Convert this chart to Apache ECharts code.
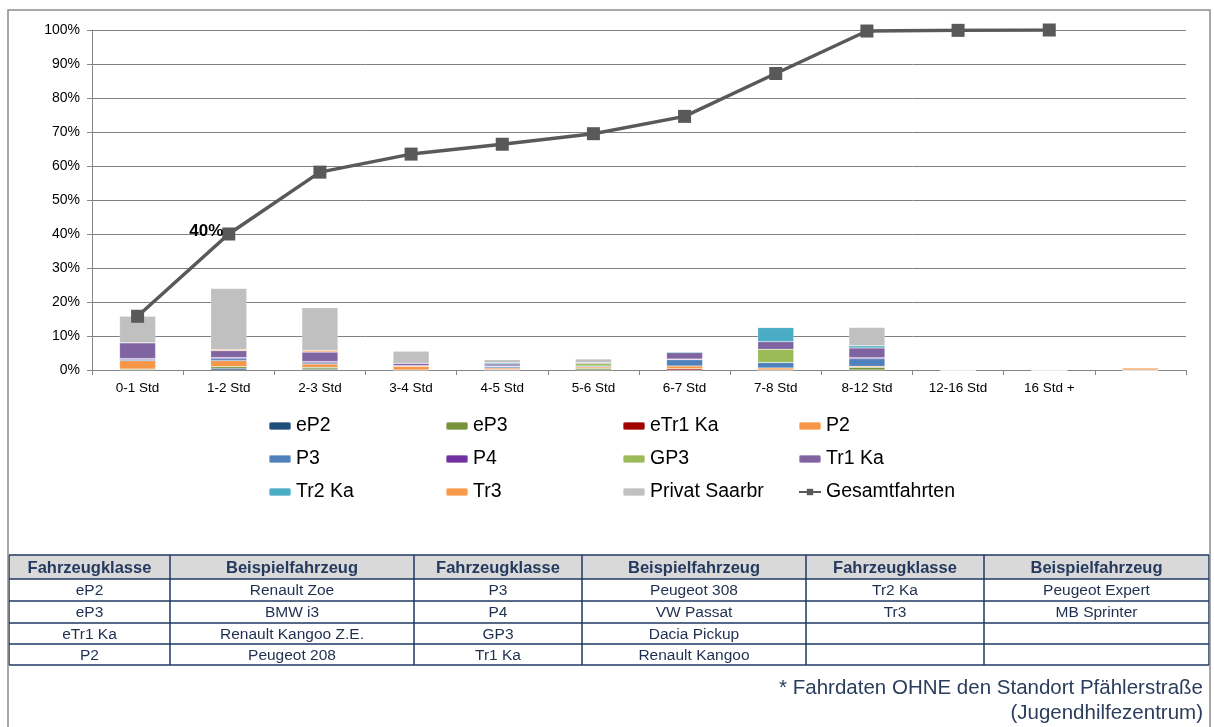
<!DOCTYPE html>
<html>
<head>
<meta charset="utf-8">
<script src="https://cdn.jsdelivr.net/npm/echarts@6/dist/echarts.min.js"></script>
<style>
  html, body { margin: 0; padding: 0; background: #fff; }
  #chart { width: 1214px; height: 727px; }
</style>
</head>
<body>
<div id="chart"></div>
<script>
// Duration classes (last slot has no label)
const categories = ['0-1 Std', '1-2 Std', '2-3 Std', '3-4 Std', '4-5 Std', '5-6 Std',
  '6-7 Std', '7-8 Std', '8-12 Std', '12-16 Std', '16 Std +', ''];

// Share of trips per vehicle class, in percent
const eP2    = [0,   0.5, 0.3, 0,   0,   0,   0,   0,   0,   0, 0, 0];
const eP3    = [0.3, 0.5, 0.5, 0,   0,   0.5, 0,   0,   0.8, 0, 0, 0];
const eTr1Ka = [0,   0,   0,   0,   0.2, 0,   0.4, 0,   0,   0, 0, 0];
const P2     = [2.4, 1.7, 1.0, 1.1, 0.4, 0.4, 0.8, 0.6, 0.3, 0, 0, 0];
const P3     = [0.4, 0.6, 0.3, 0,   0.4, 0.3, 1.8, 1.6, 2.2, 0, 0, 0];
const P4     = [0.3, 0.4, 0.4, 0.2, 0.2, 0,   0.2, 0,   0.3, 0, 0, 0];
const GP3    = [0,   0,   0,   0,   0,   0.7, 0,   3.9, 0,   0, 0, 0];
const Tr1Ka  = [4.6, 2.0, 2.8, 0.7, 0.6, 0.3, 1.9, 2.2, 2.9, 0, 0, 0];
const Tr2Ka  = [0,   0,   0,   0,   0.3, 0,   0.3, 4.2, 0.6, 0, 0, 0];
const Tr3    = [0,   0.3, 0.4, 0,   0,   0,   0,   0,   0,   0, 0, 0.6];
const Privat = [7.8, 18.0, 12.6, 3.5, 0.9, 1.0, 0,  0,   5.4, 0, 0, 0];

// Cumulative share of all trips
const gesamtfahrten = [15.8, 40, 58.2, 63.5, 66.4, 69.5, 74.6, 87.2, 99.7, 99.9, 100, null];

// Vehicle class legend table
const tableHeader = ['Fahrzeugklasse', 'Beispielfahrzeug', 'Fahrzeugklasse', 'Beispielfahrzeug',
  'Fahrzeugklasse', 'Beispielfahrzeug'];
const tableRows = [
  ['eP2', 'Renault Zoe', 'P3', 'Peugeot 308', 'Tr2 Ka', 'Peugeot Expert'],
  ['eP3', 'BMW i3', 'P4', 'VW Passat', 'Tr3', 'MB Sprinter'],
  ['eTr1 Ka', 'Renault Kangoo Z.E.', 'GP3', 'Dacia Pickup', '', ''],
  ['P2', 'Peugeot 208', 'Tr1 Ka', 'Renault Kangoo', '', '']
];
const footnote = ['* Fahrdaten OHNE den Standort Pfählerstraße', '(Jugendhilfezentrum)'];

const FONT = '"Liberation Sans", Arial, sans-serif';

const barSeries = [
  ['eP2', eP2, '#1f4e79'],
  ['eP3', eP3, '#77933c'],
  ['eTr1 Ka', eTr1Ka, '#a00000'],
  ['P2', P2, '#f79646'],
  ['P3', P3, '#4f81bd'],
  ['P4', P4, '#7030a0'],
  ['GP3', GP3, '#9bbb59'],
  ['Tr1 Ka', Tr1Ka, '#8064a2'],
  ['Tr2 Ka', Tr2Ka, '#4bacc6'],
  ['Tr3', Tr3, '#f99a4c'],
  ['Privat Saarbr', Privat, '#c0c0c0']
].map(([name, data, color]) => ({
  name, type: 'bar', stack: 'total', data, barWidth: 36,
  itemStyle: { color, borderColor: 'rgba(255,255,255,0.35)', borderWidth: 0.5 },
  emphasis: { disabled: true }
}));

const lineSeries = {
  name: 'Gesamtfahrten', type: 'line', z: 5,
  data: gesamtfahrten.map((v, i) => i === 1
    ? { value: v, label: { show: true, position: [-33, -5], formatter: '{c}%',
        fontFamily: FONT, fontWeight: 'bold', fontSize: 17, color: '#000' } }
    : v),
  symbol: 'rect', symbolSize: 13,
  lineStyle: { color: '#595959', width: 3.5 },
  itemStyle: { color: '#595959' },
  emphasis: { disabled: true }
};

// Legend in four columns
const legendCols = [
  ['eP2', 'P3', 'Tr2 Ka'],
  ['eP3', 'P4', 'Tr3'],
  ['eTr1 Ka', 'GP3', 'Privat Saarbr'],
  ['P2', 'Tr1 Ka', 'Gesamtfahrten']
];
const legendX = [268, 445, 622, 798];
const legends = legendCols.map((names, i) => ({
  orient: 'vertical', left: legendX[i], top: 415, padding: 0,
  data: names, itemWidth: 22, itemHeight: 8, itemGap: 11,
  selectedMode: false,
  textStyle: { fontFamily: FONT, fontSize: 19.5, color: '#000', lineHeight: 22 }
}));

// Table drawn with graphic primitives
const colEdges = [9, 170, 414, 582, 806, 984, 1209];
const rowEdges = [555, 579, 601, 623, 644, 665];
const gfx = [];
gfx.push({ type: 'rect', shape: { x: colEdges[0], y: rowEdges[0], width: colEdges[6] - colEdges[0],
  height: rowEdges[1] - rowEdges[0] }, style: { fill: '#d9d9d9' }, silent: true });
const allRows = [tableHeader].concat(tableRows);
allRows.forEach((row, r) => {
  row.forEach((txt, c) => {
    if (!txt) return;
    gfx.push({ type: 'text', silent: true,
      style: { text: txt, x: (colEdges[c] + colEdges[c + 1]) / 2, y: (rowEdges[r] + rowEdges[r + 1]) / 2 + 1,
        align: 'center', verticalAlign: 'middle',
        font: r === 0 ? 'bold 16.5px ' + FONT : '15.5px ' + FONT,
        fill: r === 0 ? '#253a5e' : '#1f2f4f' } });
  });
});
const lineColor = '#1f3864';
rowEdges.forEach(y => gfx.push({ type: 'line', silent: true,
  shape: { x1: colEdges[0], y1: y, x2: colEdges[6], y2: y }, style: { stroke: lineColor, lineWidth: 1.5 } }));
colEdges.forEach(x => gfx.push({ type: 'line', silent: true,
  shape: { x1: x, y1: rowEdges[0], x2: x, y2: rowEdges[5] }, style: { stroke: lineColor, lineWidth: 1.5 } }));
footnote.forEach((t, i) => gfx.push({ type: 'text', silent: true,
  style: { text: t, x: 1203, y: 688 + i * 25, align: 'right', verticalAlign: 'middle',
    font: '20.5px ' + FONT, fill: '#2b3d5c' } }));
// Outer frame
gfx.push({ type: 'rect', silent: true, shape: { x: 8, y: 10, width: 1202, height: 730 },
  style: { fill: 'none', stroke: '#8c8c8c', lineWidth: 1.5 } });

const chart = echarts.init(document.getElementById('chart'), null, { renderer: 'canvas' });
chart.setOption({
  animation: false,
  backgroundColor: '#fff',
  grid: { left: 92, right: 28, top: 30, bottom: 357, containLabel: false },
  xAxis: {
    type: 'category', data: categories,
    axisLine: { lineStyle: { color: '#868686', width: 1 } },
    axisTick: { show: true, length: 5, lineStyle: { color: '#868686' } },
    axisLabel: { fontFamily: FONT, fontSize: 13.5, color: '#000', margin: 11, interval: 0 }
  },
  yAxis: {
    type: 'value', min: 0, max: 100, interval: 10,
    axisLine: { show: true, lineStyle: { color: '#868686', width: 1 } },
    axisTick: { show: true, length: 5, lineStyle: { color: '#868686' } },
    axisLabel: { fontFamily: FONT, fontSize: 14, color: '#000', margin: 12, formatter: '{value}%' },
    splitLine: { lineStyle: { color: '#808080', width: 1 } }
  },
  legend: legends,
  graphic: gfx,
  series: barSeries.concat([lineSeries])
});
</script>
</body>
</html>
